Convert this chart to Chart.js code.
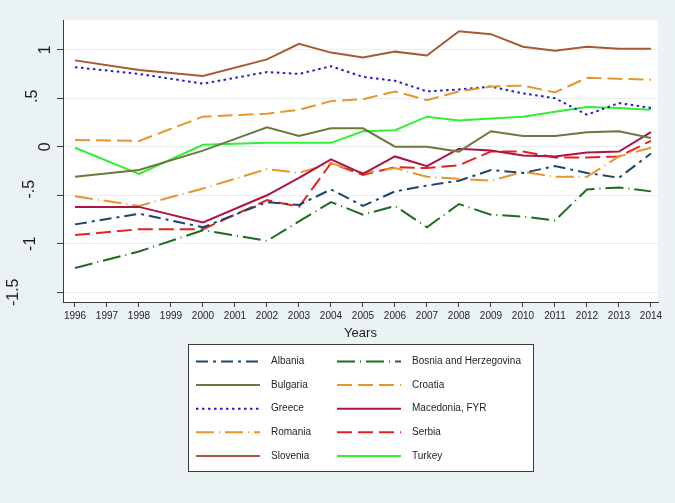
<!DOCTYPE html>
<html>
<head>
<meta charset="utf-8">
<script src="https://cdn.jsdelivr.net/npm/chart.js@4/dist/chart.umd.min.js"></script>
<style>
    html, body { margin: 0; padding: 0; background: #eaf2f3; }
    canvas { display: block; }
</style>
</head>
<body>
<canvas id="chart" width="675" height="503"></canvas>
<script>
const years = [1996, 1997, 1998, 1999, 2000, 2001, 2002, 2003, 2004, 2005, 2006, 2007, 2008, 2009, 2010, 2011, 2012, 2013, 2014];
const yTickValues = [-1.5, -1, -0.5, 0, 0.5, 1];
const yTickLabels = ['-1.5', '-1', '-.5', '0', '.5', '1'];
const xTitle = 'Years';

// biennial before 2002, so 1997/1999/2001 are empty
const albania = [-0.80, null, -0.69, null, -0.83, null, -0.57, -0.60, -0.44, -0.61, -0.46, -0.40, -0.35, -0.24, -0.27, -0.20, -0.27, -0.32, -0.07];
const bosnia = [-1.25, null, -1.08, null, -0.86, null, -0.97, -0.77, -0.57, -0.70, -0.61, -0.83, -0.59, -0.70, -0.72, -0.76, -0.44, -0.42, -0.46];
const bulgaria = [-0.31, null, -0.24, null, -0.04, null, 0.20, 0.11, 0.19, 0.19, 0.00, 0.00, -0.05, 0.16, 0.11, 0.11, 0.15, 0.16, 0.09];
const croatia = [0.07, null, 0.06, null, 0.31, null, 0.34, 0.38, 0.47, 0.49, 0.57, 0.48, 0.57, 0.62, 0.63, 0.56, 0.71, 0.70, 0.69];
const greece = [0.82, null, 0.75, null, 0.65, null, 0.77, 0.75, 0.83, 0.72, 0.68, 0.57, 0.59, 0.62, 0.55, 0.50, 0.33, 0.45, 0.40];
const macedonia = [-0.62, null, -0.62, null, -0.78, null, -0.50, -0.32, -0.13, -0.28, -0.10, -0.20, -0.02, -0.04, -0.09, -0.10, -0.06, -0.05, 0.15];
const romania = [-0.51, null, -0.61, null, -0.43, null, -0.23, -0.27, -0.17, -0.27, -0.22, -0.31, -0.33, -0.35, -0.26, -0.31, -0.31, -0.10, -0.01];
const serbia = [-0.91, null, -0.85, null, -0.85, null, -0.55, -0.62, -0.17, -0.29, -0.21, -0.22, -0.19, -0.05, -0.05, -0.11, -0.11, -0.10, 0.06];
const slovenia = [0.89, null, 0.79, null, 0.73, null, 0.90, 1.06, 0.97, 0.92, 0.98, 0.94, 1.19, 1.16, 1.03, 0.99, 1.03, 1.01, 1.01];
const turkey = [-0.01, null, -0.28, null, 0.02, null, 0.04, 0.04, 0.04, 0.16, 0.17, 0.31, 0.27, 0.29, 0.31, 0.36, 0.41, 0.40, 0.38];

const BG = '#eaf2f3';
const TEXT = '#1e1e1e';
const AXIS = '#3c3c3c';

document.addEventListener('DOMContentLoaded', function () {

    function series(label, values, color, dash) {
        return {
            label: label,
            data: values.map((v, i) => ({ x: years[i], y: v })),
            borderColor: color,
            backgroundColor: color,
            borderWidth: 2,
            borderDash: dash,
            pointRadius: 0,
            tension: 0,
            spanGaps: true,
            fill: false
        };
    }

    const datasets = [
        series('Albania', albania, '#1a476f', [12, 5, 3, 5]),
        series('Bosnia and Herzegovina', bosnia, '#1f6b1f', [18, 5, 1, 5]),
        series('Bulgaria', bulgaria, '#6b7a3c', []),
        series('Croatia', croatia, '#e8952b', [15, 6]),
        series('Greece', greece, '#1c1cd0', [2.5, 3.5]),
        series('Macedonia, FYR', macedonia, '#ad1444', []),
        series('Romania', romania, '#e8952b', [18, 5, 1, 5]),
        series('Serbia', serbia, '#e8201f', [15, 6]),
        series('Slovenia', slovenia, '#a65a34', []),
        series('Turkey', turkey, '#33ee33', [])
    ];

    // stata staggers the rotated labels a bit; offsets are [x baseline, y shift]
    const yLabelPlace = { '1': [50, 0], '.5': [37, -2], '0': [50, 0], '-.5': [34, -6], '-1': [35, 0], '-1.5': [18, 0] };

    const backgroundPlugin = {
        id: 'background',
        beforeDraw(chart) {
            const ctx = chart.ctx;
            const area = chart.chartArea;
            ctx.save();
            ctx.fillStyle = BG;
            ctx.fillRect(0, 0, chart.width, chart.height);
            ctx.fillStyle = '#ffffff';
            ctx.fillRect(area.left, area.top, area.right - area.left, area.bottom - area.top);
            ctx.restore();
        }
    };

    const labelsPlugin = {
        id: 'extraLabels',
        afterDraw(chart) {
            const ctx = chart.ctx;
            const yScale = chart.scales.y;
            const area = chart.chartArea;
            ctx.save();
            ctx.fillStyle = TEXT;

            ctx.font = '16px "Liberation Sans", Arial, sans-serif';
            ctx.textAlign = 'center';
            ctx.textBaseline = 'alphabetic';
            yTickValues.forEach((v, i) => {
                const text = yTickLabels[i];
                const place = yLabelPlace[text] || [50, 0];
                ctx.save();
                ctx.translate(place[0], yScale.getPixelForValue(v) + place[1]);
                ctx.rotate(-Math.PI / 2);
                ctx.fillText(text, 0, 0);
                ctx.restore();
            });

            ctx.font = '13px "Liberation Sans", Arial, sans-serif';
            ctx.textBaseline = 'middle';
            ctx.fillText(xTitle, (area.left + area.right) / 2, 333);
            ctx.restore();
        }
    };

    const legendPlugin = {
        id: 'boxLegend',
        afterDraw(chart) {
            const ctx = chart.ctx;
            const box = { x: 188.5, y: 344.5, w: 345, h: 127 };
            ctx.save();
            ctx.fillStyle = '#ffffff';
            ctx.fillRect(box.x, box.y, box.w, box.h);
            ctx.strokeStyle = '#3a3a3a';
            ctx.lineWidth = 1;
            ctx.strokeRect(box.x, box.y, box.w, box.h);

            const cols = [196, 337];
            ctx.font = '10px "Liberation Sans", Arial, sans-serif';
            ctx.textAlign = 'left';
            ctx.textBaseline = 'middle';
            chart.data.datasets.forEach((ds, i) => {
                const col = i % 2;
                const row = Math.floor(i / 2);
                const y = 361.5 + row * 23.6;
                const x = cols[col];
                ctx.strokeStyle = ds.borderColor;
                ctx.lineWidth = 2;
                ctx.setLineDash(ds.borderDash || []);
                ctx.beginPath();
                ctx.moveTo(x, y);
                ctx.lineTo(x + 64, y);
                ctx.stroke();
                ctx.setLineDash([]);
                ctx.fillStyle = TEXT;
                ctx.fillText(ds.label, x + 75, y);
            });
            ctx.restore();
        }
    };

    new Chart(document.getElementById('chart'), {
        type: 'line',
        data: { datasets: datasets },
        plugins: [backgroundPlugin, labelsPlugin, legendPlugin],
        options: {
            responsive: false,
            devicePixelRatio: 1,
            animation: false,
            layout: { padding: { top: 20, right: 17, left: 0, bottom: 0 } },
            plugins: {
                legend: { display: false },
                tooltip: { enabled: false }
            },
            scales: {
                x: {
                    type: 'linear',
                    min: 1995.625,
                    max: 2014.22,
                    afterBuildTicks: (scale) => {
                        scale.ticks = years.map((v) => ({ value: v }));
                    },
                    afterFit: (scale) => {
                        scale.height = 201;
                    },
                    grid: {
                        drawOnChartArea: false,
                        drawTicks: true,
                        tickLength: 5,
                        tickColor: AXIS
                    },
                    border: { color: AXIS, width: 1 },
                    ticks: {
                        autoSkip: false,
                        maxRotation: 0,
                        padding: 3,
                        color: TEXT,
                        font: { family: '"Liberation Sans", Arial, sans-serif', size: 10 },
                        callback: (v) => String(v)
                    }
                },
                y: {
                    min: -1.6,
                    max: 1.306,
                    afterBuildTicks: (scale) => {
                        scale.ticks = yTickValues.map((v) => ({ value: v }));
                    },
                    afterFit: (scale) => {
                        scale.width = 63;
                    },
                    grid: {
                        color: '#e6eef0',
                        lineWidth: 1,
                        drawTicks: true,
                        tickLength: 6,
                        tickColor: AXIS
                    },
                    border: { color: AXIS, width: 1 },
                    ticks: { display: false }
                }
            }
        }
    });
});
</script>
</body>
</html>
